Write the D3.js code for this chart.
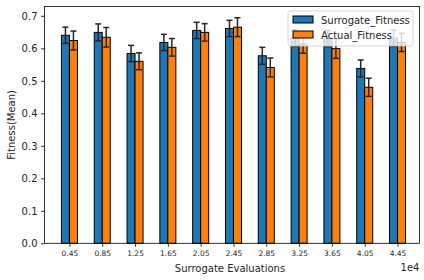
<!DOCTYPE html>
<html>
<head>
<meta charset="utf-8">
<script src="https://cdn.jsdelivr.net/npm/d3@7"></script>
<style>
  body { margin: 0; background: #fff; }
  svg { display: block; font-family: "DejaVu Sans", sans-serif; }
</style>
</head>
<body>
<svg width="424" height="280"></svg>
<script>
// data
const categories = ['0.45', '0.85', '1.25', '1.65', '2.05', '2.45', '2.85', '3.25', '3.65', '4.05', '4.45'];
const surrogateMean = [0.640, 0.649, 0.584, 0.618, 0.655, 0.661, 0.577, 0.631, 0.630, 0.538, 0.631];
const surrogateErr  = [0.025, 0.026, 0.025, 0.025, 0.025, 0.025, 0.026, 0.025, 0.025, 0.026, 0.025];
const actualMean    = [0.624, 0.634, 0.560, 0.603, 0.649, 0.665, 0.541, 0.613, 0.599, 0.480, 0.618];
const actualErr     = [0.029, 0.030, 0.026, 0.027, 0.027, 0.029, 0.029, 0.028, 0.030, 0.028, 0.028];
const yTicks = [0.0, 0.1, 0.2, 0.3, 0.4, 0.5, 0.6, 0.7];

const series = [
  { name: 'Surrogate_Fitness', color: '#1f77b4', mean: surrogateMean, err: surrogateErr, offset: -1 },
  { name: 'Actual_Fitness', color: '#ff7f0e', mean: actualMean, err: actualErr, offset: 0 }
];

const svg = d3.select('svg');
const plot = { left: 44.5, right: 419.5, top: 6.5, bottom: 243.3 };

const x = d3.scaleLinear().domain([-0.76, 10.67]).range([plot.left, plot.right]);
const y = d3.scaleLinear().domain([0, 0.7]).range([plot.bottom, 15.8]);
const barW = 8;

const g = svg.append('g');

// bars
series.forEach(s => {
  g.selectAll(null)
    .data(s.mean)
    .enter()
    .append('rect')
    .attr('x', (d, i) => x(i) + s.offset * barW)
    .attr('y', d => y(d))
    .attr('width', barW)
    .attr('height', d => y(0) - y(d))
    .attr('fill', s.color)
    .attr('stroke', '#000')
    .attr('stroke-width', 1);
});

// error bars
series.forEach(s => {
  const eg = g.selectAll(null)
    .data(s.mean.map((m, i) => ({ m, e: s.err[i], i })))
    .enter()
    .append('g')
    .attr('stroke', '#262626')
    .attr('stroke-width', 1.5);
  const cx = d => x(d.i) + s.offset * barW + barW / 2;
  eg.append('line')
    .attr('x1', cx).attr('x2', cx)
    .attr('y1', d => y(d.m - d.e)).attr('y2', d => y(d.m + d.e));
  eg.append('line')
    .attr('x1', d => cx(d) - 3).attr('x2', d => cx(d) + 3)
    .attr('y1', d => y(d.m + d.e)).attr('y2', d => y(d.m + d.e));
  eg.append('line')
    .attr('x1', d => cx(d) - 3).attr('x2', d => cx(d) + 3)
    .attr('y1', d => y(d.m - d.e)).attr('y2', d => y(d.m - d.e));
});

// frame
svg.append('rect')
  .attr('x', plot.left).attr('y', plot.top)
  .attr('width', plot.right - plot.left).attr('height', plot.bottom - plot.top)
  .attr('fill', 'none').attr('stroke', '#000').attr('stroke-width', 0.8);

// y axis
const yAxis = d3.axisLeft(y).tickValues(yTicks).tickFormat(d3.format('.1f')).tickSize(3.5).tickPadding(3.5);
svg.append('g')
  .attr('transform', `translate(${plot.left},0)`)
  .call(yAxis)
  .call(a => a.select('.domain').remove())
  .call(a => a.selectAll('text').attr('font-size', 10).attr('fill', '#262626').attr('font-family', 'DejaVu Sans'))
  .call(a => a.selectAll('line').attr('stroke', '#000').attr('stroke-width', 0.8));

// x axis
const xAxis = d3.axisBottom(x).tickValues(d3.range(categories.length)).tickFormat(i => categories[i]).tickSize(3.5).tickPadding(3.5);
svg.append('g')
  .attr('transform', `translate(0,${plot.bottom})`)
  .call(xAxis)
  .call(a => a.select('.domain').remove())
  .call(a => a.selectAll('text').attr('font-size', 7.5).attr('fill', '#262626').attr('font-family', 'DejaVu Sans'))
  .call(a => a.selectAll('line').attr('stroke', '#000').attr('stroke-width', 0.8));

// labels
svg.append('text')
  .attr('x', (plot.left + plot.right) / 2 - 2).attr('y', 272)
  .attr('text-anchor', 'middle').attr('font-size', 10).attr('fill', '#262626')
  .text('Surrogate Evaluations');
svg.append('text')
  .attr('x', plot.right).attr('y', 271)
  .attr('text-anchor', 'end').attr('font-size', 10).attr('fill', '#262626')
  .text('1e4');
svg.append('text')
  .attr('transform', `translate(15,${(plot.top + plot.bottom) / 2}) rotate(-90)`)
  .attr('text-anchor', 'middle').attr('font-size', 10).attr('fill', '#262626')
  .text('Fitness(Mean)');

// legend
const lg = svg.append('g').attr('transform', 'translate(288,11)');
lg.append('rect')
  .attr('width', 125).attr('height', 35).attr('rx', 2)
  .attr('fill', '#fff').attr('fill-opacity', 0.8)
  .attr('stroke', '#ccc').attr('stroke-width', 0.8);
series.forEach((s, i) => {
  lg.append('rect')
    .attr('x', 5).attr('y', 5 + i * 15).attr('width', 20).attr('height', 7)
    .attr('fill', s.color).attr('stroke', '#000').attr('stroke-width', 1);
  lg.append('text')
    .attr('x', 33).attr('y', 12.5 + i * 15)
    .attr('font-size', 10).attr('fill', '#262626')
    .text(s.name);
});
</script>
</body>
</html>
